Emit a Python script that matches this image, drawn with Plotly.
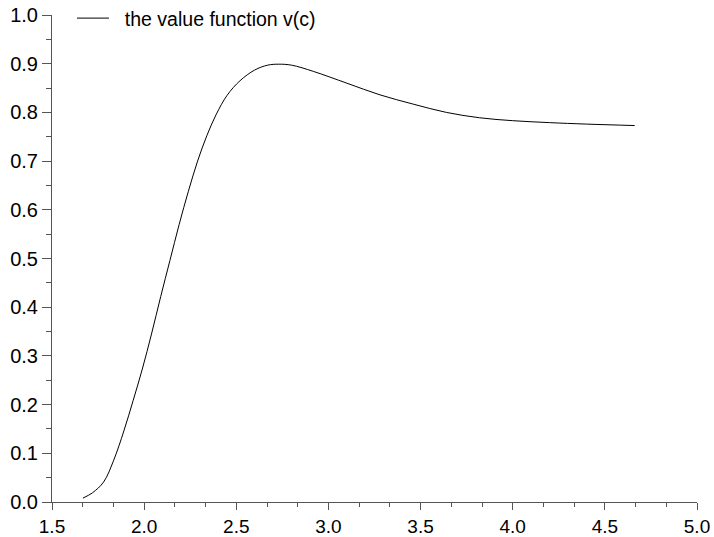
import plotly.graph_objects as go

c_values = [1.668, 1.72, 1.78, 1.835, 1.89, 1.94, 1.99, 2.04, 2.09, 2.14, 2.19, 2.24, 2.29, 2.34, 2.39, 2.45, 2.52, 2.60, 2.67, 2.73, 2.80, 2.92, 3.10, 3.28, 3.46, 3.64, 3.82, 4.00, 4.20, 4.40, 4.662]
v_values = [0.008, 0.019, 0.041, 0.086, 0.146, 0.208, 0.273, 0.345, 0.422, 0.496, 0.570, 0.638, 0.700, 0.752, 0.795, 0.835, 0.865, 0.887, 0.897, 0.899, 0.897, 0.884, 0.860, 0.836, 0.817, 0.800, 0.789, 0.783, 0.779, 0.776, 0.773]
series_name = "\u00a0\u00a0the value function v(c)"

fig = go.Figure()
fig.add_trace(go.Scatter(x=c_values, y=v_values, mode="lines", name=series_name,
                         line=dict(color="black", width=1, shape="spline", smoothing=1.0),
                         showlegend=True))

yaxis_font = dict(family="Liberation Sans, Arial, sans-serif", size=20, color="black")
xaxis_font = dict(family="Liberation Sans, Arial, sans-serif", size=19, color="black")
fig.update_layout(
    width=714, height=537,
    margin=dict(l=52, r=17, t=15, b=35, autoexpand=False),
    paper_bgcolor="white", plot_bgcolor="white",
    showlegend=True,
    legend=dict(x=0.031, y=1.033, xanchor="left", yanchor="top", itemwidth=32,
                font=dict(family="Liberation Sans, Arial, sans-serif", size=19.5, color="black"),
                bgcolor="rgba(0,0,0,0)"),
    xaxis=dict(range=[1.5, 5.0], tick0=1.5, dtick=0.5, tickformat=".1f", automargin=False,
               ticklabeloverflow="allow",
               showgrid=False, zeroline=False, showline=True, linecolor="#555555", linewidth=1,
               ticks="outside", ticklen=7, tickcolor="#555555", tickfont=xaxis_font,
               minor=dict(ticks="outside", ticklen=4, tickcolor="#555555", dtick=0.5/3, tick0=1.5)),
    yaxis=dict(range=[0, 1.0], tick0=0, dtick=0.1, tickformat=".1f", automargin=False,
               ticklabeloverflow="allow",
               showgrid=False, zeroline=False, showline=True, linecolor="#555555", linewidth=1,
               ticks="outside", ticklen=9, tickcolor="#555555", tickfont=yaxis_font,
               minor=dict(ticks="outside", ticklen=5, tickcolor="#555555", dtick=0.05, tick0=0)),
)

fig.write_html("out.html", config={"displayModeBar": False},
               post_script="document.body.style.margin='0';")
